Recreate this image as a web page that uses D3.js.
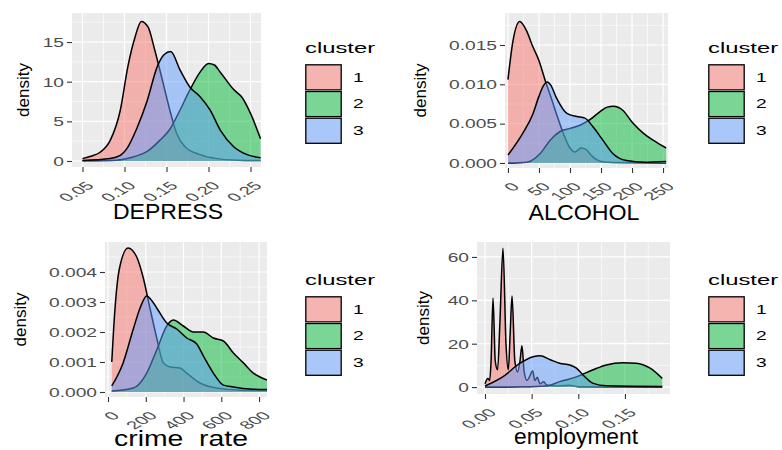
<!DOCTYPE html>
<html>
<head>
<meta charset="utf-8">
<script src="https://cdn.jsdelivr.net/npm/d3@7"></script>
<style>
  body { margin: 0; background: #fff; }
  text { font-family: "Liberation Sans", Arial, sans-serif; }
</style>
</head>
<body>
<div id="chart"></div>
<script>
// cluster keys + ggplot default hues
const clusters = ["1", "2", "3"];
const clusterColors = ["#F8766D", "#00BA38", "#619CFF"];

// density curves: [value, density]
const depress1 = [[0.05,0.3],[0.06,0.6],[0.071,1.1],[0.083,2.6],[0.095,6.4],[0.104,11.9],[0.1125,15.6],[0.12,17.6],[0.128,16.9],[0.136,14],[0.146,9.8],[0.154,6.4],[0.162,3.5],[0.172,1.8],[0.19,0.8],[0.21,0.3],[0.235,0.1],[0.262,0.05]];
const depress2 = [[0.05,0.02],[0.09,0.1],[0.11,0.5],[0.127,1.2],[0.142,2.6],[0.154,4],[0.166,6.4],[0.178,9],[0.19,11.2],[0.2,12.3],[0.207,12.1],[0.214,11.2],[0.23,9.0],[0.24,8.0],[0.25,6.0],[0.262,2.8]];
const depress3 = [[0.05,0.05],[0.083,0.3],[0.095,0.7],[0.103,1.6],[0.115,4.2],[0.127,7.6],[0.139,11.9],[0.147,13.4],[0.155,13.8],[0.166,11.5],[0.178,9.3],[0.19,8.1],[0.202,6.4],[0.214,3.9],[0.23,1.8],[0.246,0.8],[0.262,0.4]];

const alcohol1 = [[0,0.0106],[8,0.0155],[19,0.018],[30,0.0168],[40,0.0148],[50,0.013],[60,0.0105],[70,0.0082],[80,0.0058],[90,0.0036],[100,0.0019],[108,0.0014],[118,0.0019],[126,0.0017],[135,0.0009],[150,0.0002],[170,0.00005],[255,0]];
const alcohol2 = [[0,0],[30,0.0001],[52,0.0012],[68,0.0029],[84,0.004],[100,0.0044],[116,0.0048],[132,0.0055],[148,0.0065],[160,0.0071],[170,0.0072],[185,0.0067],[201,0.0051],[218,0.0038],[234,0.0029],[255,0.0019]];
const alcohol3 = [[0,0.001],[24,0.0038],[40,0.0062],[50,0.0085],[57,0.0098],[63,0.0103],[69,0.0099],[78,0.0083],[95,0.0063],[111,0.0059],[124,0.0057],[137,0.0046],[153,0.0029],[169,0.0012],[191,0.0003],[220,0.0001],[255,0.0002]];

const crime1 = [[20,0.001],[35,0.0026],[60,0.0041],[106,0.0048],[152,0.0045],[187,0.0038],[222,0.0028],[258,0.0018],[293,0.00097],[328,0.00083],[381,0.0008],[417,0.00063],[487,0.0003],[575,0.00013],[700,0.00006],[842,0.00005]];
const crime2 = [[20,0.00003],[134,0.00013],[205,0.00063],[258,0.0014],[311,0.0022],[346,0.0024],[399,0.0022],[452,0.002],[505,0.002],[558,0.0018],[611,0.0017],[664,0.0013],[717,0.00097],[770,0.00063],[842,0.0004]];
const crime3 = [[20,0.0002],[80,0.00097],[134,0.0021],[170,0.0028],[205,0.0032],[225,0.0031],[258,0.0028],[311,0.0023],[364,0.0021],[417,0.0018],[470,0.0016],[505,0.0012],[558,0.00063],[611,0.00023],[664,0.00017],[750,0.0001],[842,0.00008]];

const employ1 = [[0,1.5],[0.003,4],[0.005,3],[0.0065,12],[0.0086,41],[0.011,12],[0.0135,8],[0.016,30],[0.0193,64],[0.0225,20],[0.025,8],[0.027,25],[0.029,42],[0.032,12],[0.035,7],[0.0375,12],[0.0396,19],[0.042,7],[0.045,3],[0.048,5],[0.051,7.5],[0.0535,3],[0.056,4.5],[0.059,1.5],[0.063,2.5],[0.066,1],[0.075,0.5],[0.09,0.8],[0.1,0.2],[0.19,0]];
const employ2 = [[0,0],[0.04,0.1],[0.066,0.5],[0.08,2.5],[0.098,4.7],[0.116,8],[0.13,10.2],[0.148,11.2],[0.162,11],[0.177,8.7],[0.19,4]];
const employ3 = [[0,0.5],[0.019,4.7],[0.0375,11],[0.0515,14],[0.059,14.4],[0.07,12.6],[0.08,11],[0.091,10.2],[0.098,8.7],[0.105,5.6],[0.116,1.7],[0.13,0.6],[0.19,0.3]];

// axis ticks
const depressTicks = [0.05, 0.10, 0.15, 0.20, 0.25];
const depressDens = [0, 5, 10, 15];
const alcoholTicks = [0, 50, 100, 150, 200, 250];
const alcoholDens = [0, 0.005, 0.010, 0.015];
const crimeTicks = [0, 200, 400, 600, 800];
const crimeDens = [0, 0.001, 0.002, 0.003, 0.004];
const employTicks = [0, 0.05, 0.10, 0.15];
const employDens = [0, 20, 40, 60];

const panels = [
  { title: "DEPRESS", box: [72, 13, 261, 167], xDom: [0.0375, 0.2625], yDom: [-0.757, 18.66],
    xTicks: depressTicks, xFmt: d3.format(".2f"), yTicks: depressDens, yFmt: d3.format("d"),
    series: [depress1, depress2, depress3], titleX: 168, titleW: 110, titleY: 219, densX: 29, legend: [305, 53] },
  { title: "ALCOHOL", box: [505, 13, 668, 168], xDom: [-4.8, 258], yDom: [-0.00064, 0.01907],
    xTicks: alcoholTicks, xFmt: d3.format("d"), yTicks: alcoholDens, yFmt: d3.format(".3f"),
    series: [alcohol1, alcohol2, alcohol3], titleX: 584, titleW: 111, titleY: 220, densX: 426, legend: [708, 53] },
  { title: "crime  rate", box: [105, 242, 267, 397], xDom: [-15.9, 842], yDom: [-0.000167, 0.005],
    xTicks: crimeTicks, xFmt: d3.format("d"), yTicks: crimeDens, yFmt: d3.format(".3f"),
    series: [crime1, crime2, crime3], titleX: 181, titleW: 134, titleY: 446, densX: 26, legend: [305, 285] },
  { title: "employment", box: [477, 242, 670, 394], xDom: [-0.00857, 0.1983], yDom: [-3.2, 66.9],
    xTicks: employTicks, xFmt: d3.format(".2f"), yTicks: employDens, yFmt: d3.format("d"),
    series: [employ1, employ2, employ3], titleX: 576, titleW: 124, titleY: 444, densX: 429, legend: [708, 285] }
];

const W = 782, H = 450;
const svg = d3.select("#chart").append("svg").attr("width", W).attr("height", H);

function minorTicks(ticks, dom) {
  const step = ticks[1] - ticks[0];
  const out = [];
  for (let v = ticks[0] - step / 2; v <= dom[1]; v += step) if (v >= dom[0]) out.push(v);
  return out;
}

panels.forEach((p, pi) => {
  const [x0, y0, x1, y1] = p.box;
  const x = d3.scaleLinear().domain(p.xDom).range([x0, x1]);
  const y = d3.scaleLinear().domain(p.yDom).range([y1, y0]);
  const g = svg.append("g");

  // panel background + grid
  g.append("rect").attr("x", x0).attr("y", y0).attr("width", x1 - x0).attr("height", y1 - y0).attr("fill", "#EBEBEB");
  g.selectAll(".vminor").data(minorTicks(p.xTicks, p.xDom)).join("line")
    .attr("x1", d => x(d)).attr("x2", d => x(d)).attr("y1", y0).attr("y2", y1)
    .attr("stroke", "#fff").attr("stroke-width", 0.6);
  g.selectAll(".hminor").data(minorTicks(p.yTicks, p.yDom)).join("line")
    .attr("y1", d => y(d)).attr("y2", d => y(d)).attr("x1", x0).attr("x2", x1)
    .attr("stroke", "#fff").attr("stroke-width", 0.6);
  g.selectAll(".vmajor").data(p.xTicks).join("line")
    .attr("x1", d => x(d)).attr("x2", d => x(d)).attr("y1", y0).attr("y2", y1)
    .attr("stroke", "#fff").attr("stroke-width", 1.2);
  g.selectAll(".hmajor").data(p.yTicks).join("line")
    .attr("y1", d => y(d)).attr("y2", d => y(d)).attr("x1", x0).attr("x2", x1)
    .attr("stroke", "#fff").attr("stroke-width", 1.2);

  // clip
  const clipId = "clip" + pi;
  svg.append("clipPath").attr("id", clipId).append("rect")
    .attr("x", x0).attr("y", y0).attr("width", x1 - x0).attr("height", y1 - y0);

  const area = d3.area().x(d => x(d[0])).y0(y(0)).y1(d => y(d[1])).curve(d3.curveMonotoneX);
  const line = d3.line().x(d => x(d[0])).y(d => y(d[1])).curve(d3.curveMonotoneX);
  const marks = g.append("g").attr("clip-path", `url(#${clipId})`);
  p.series.forEach((s, i) => {
    marks.append("path").attr("d", area(s)).attr("fill", clusterColors[i]).attr("fill-opacity", 0.5);
    marks.append("path").attr("d", line(s)).attr("fill", "none").attr("stroke", "#000")
      .attr("stroke-width", 1.5).attr("stroke-linejoin", "round");
  });

  // axes
  const gy = g.append("g").attr("transform", `translate(${x0},0)`)
    .call(d3.axisLeft(y).tickValues(p.yTicks).tickFormat(p.yFmt).tickSize(5).tickSizeOuter(0));
  gy.select(".domain").remove();
  gy.attr("font-size", null).attr("font-family", null);
  gy.selectAll(".tick line").attr("stroke", "#333").attr("stroke-width", 1.1);
  gy.selectAll(".tick text").attr("x", 0).attr("dy", "0.36em")
    .attr("transform", "translate(-8,0) scale(1.6,1)")
    .attr("fill", "#4D4D4D").style("font-size", "12px");

  const gx = g.append("g").attr("transform", `translate(0,${y1})`)
    .call(d3.axisBottom(x).tickValues(p.xTicks).tickFormat(p.xFmt).tickSize(5).tickSizeOuter(0));
  gx.select(".domain").remove();
  gx.attr("font-size", null).attr("font-family", null);
  gx.selectAll(".tick line").attr("stroke", "#333").attr("stroke-width", 1.1);
  gx.selectAll(".tick text").attr("x", 0).attr("y", 0).attr("dy", 0)
    .attr("text-anchor", "end")
    .attr("transform", "translate(12,19.5) scale(1.75,1) rotate(-45)")
    .attr("fill", "#4D4D4D").style("font-size", "11.5px");

  // axis titles
  g.append("text").attr("x", p.titleX).attr("y", p.titleY)
    .attr("text-anchor", "middle").style("font-size", "22px").style("white-space", "pre")
    .attr("textLength", p.titleW).attr("lengthAdjust", "spacingAndGlyphs")
    .attr("fill", "#000").text(p.title);
  g.append("text").attr("transform", `translate(${p.densX},${(y0 + y1) / 2}) rotate(-90)`)
    .attr("text-anchor", "middle").style("font-size", "17px").attr("fill", "#000").text("density");

  // legend
  const [lx, ly] = p.legend;
  const lg = g.append("g");
  lg.append("text").attr("transform", `translate(${lx},${ly}) scale(1.7,1)`)
    .style("font-size", "14px").attr("fill", "#000").text("cluster");
  const keyW = 37, keyH = 26.7, keyTop = ly + 11;
  clusters.forEach((c, i) => {
    const ky = keyTop + i * keyH;
    lg.append("rect").attr("x", lx).attr("y", ky).attr("width", keyW).attr("height", keyH).attr("fill", "#F2F2F2");
    lg.append("rect").attr("x", lx + 0.8).attr("y", ky + 0.8).attr("width", keyW - 1.6).attr("height", keyH - 1.6)
      .attr("fill", clusterColors[i]).attr("fill-opacity", 0.5).attr("stroke", "#000").attr("stroke-width", 1.3);
    lg.append("text").attr("transform", `translate(${lx + keyW + 11},${ky + keyH / 2 + 4.3}) scale(1.6,1)`)
      .style("font-size", "12px").attr("fill", "#000").text(c);
  });
});
</script>
</body>
</html>
